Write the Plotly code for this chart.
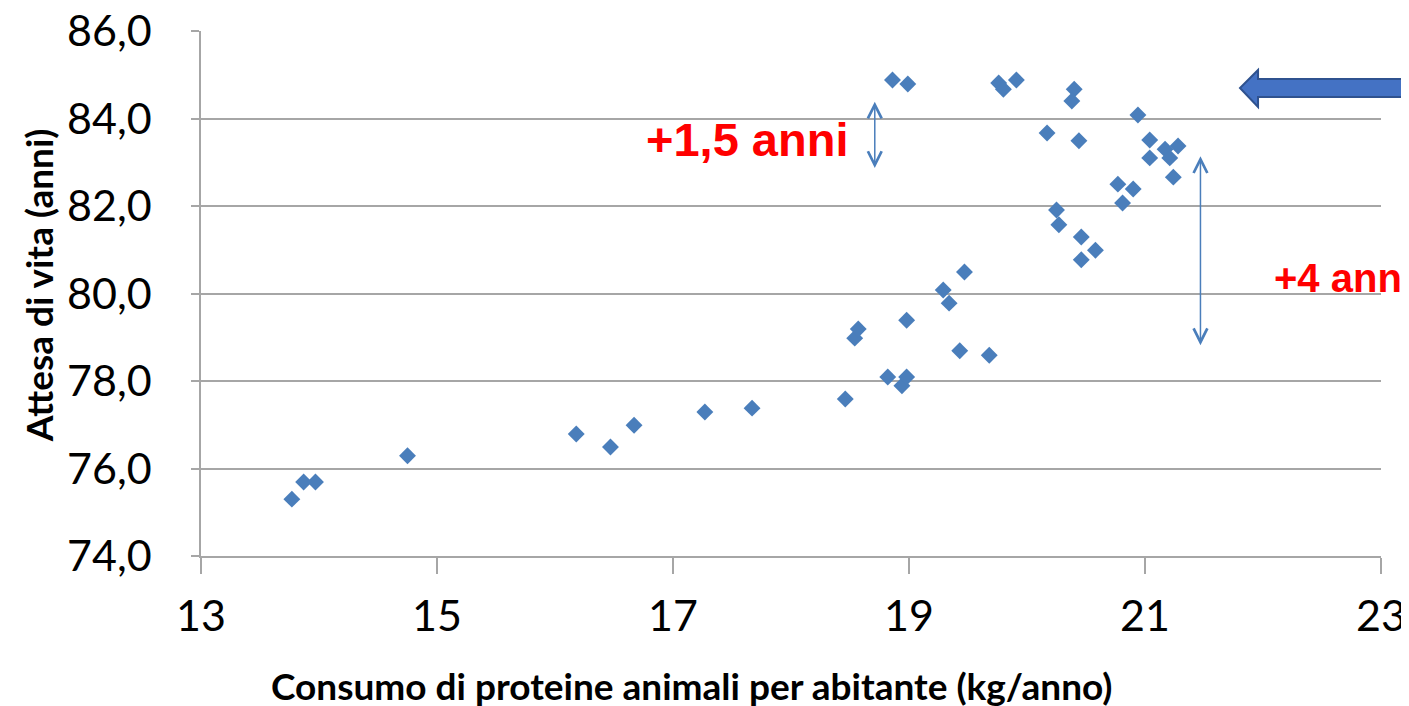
import plotly.graph_objects as go

# Data
consumo = [13.77, 13.87, 13.97, 14.75, 16.18, 16.47, 16.67, 17.27, 17.67, 18.46,
           18.54, 18.57, 18.82, 18.94, 18.98, 18.98, 19.29, 19.34, 19.47, 19.43,
           19.68, 18.86, 18.99, 19.76, 19.80, 19.91, 20.40, 20.38, 20.17, 20.44,
           20.94, 21.04, 21.04, 21.17, 21.21, 21.28, 21.24, 20.77, 20.90, 20.81,
           20.25, 20.27, 20.46, 20.58, 20.46]
attesa = [75.30, 75.69, 75.69, 76.29, 76.79, 76.49, 76.99, 77.29, 77.38, 77.59,
          78.98, 79.19, 78.09, 77.89, 78.09, 79.39, 80.08, 79.78, 80.49, 78.69,
          78.59, 84.88, 84.79, 84.81, 84.67, 84.88, 84.67, 84.40, 83.67, 83.49,
          84.08, 83.51, 83.10, 83.30, 83.10, 83.37, 82.66, 82.50, 82.39, 82.07,
          81.91, 81.57, 81.29, 80.99, 80.77]

x_ticks = [13, 15, 17, 19, 21, 23]
y_ticks = [74, 76, 78, 80, 82, 84, 86]

x_title = "Consumo di proteine animali per abitante (kg/anno)"
y_title = "Attesa di vita (anni)"
label_small = "+1,5 anni"
label_big = "+4 anni"

blue = "#4A7EBB"
grid = "#A6A6A6"

fig = go.Figure()
fig.add_trace(go.Scatter(
    x=consumo, y=attesa, mode="markers",
    marker=dict(symbol="diamond", size=13, color=blue, line=dict(width=0)),
    showlegend=False, hoverinfo="x+y"))

# page body adds an 8px offset; margins compensate for it
fig.update_layout(
    width=1409, height=706,
    margin=dict(l=193, r=36, t=23, b=158, autoexpand=False),
    paper_bgcolor="white", plot_bgcolor="white",
    separators=",.",
    font=dict(family="Lato, sans-serif", color="#000000"),
    xaxis=dict(range=[13, 23], tickvals=x_ticks, showgrid=False, zeroline=False,
               showline=True, linecolor=grid, linewidth=1.5, automargin=False,
               ticks="outside", ticklen=16, tickcolor=grid, tickwidth=1.5,
               tickfont=dict(size=43, family="Lato, sans-serif"),
               ticklabelstandoff=6, ticklabeloverflow="allow"),
    yaxis=dict(range=[74, 86], tickvals=y_ticks, tickformat=".1f",
               showgrid=True, gridcolor=grid, gridwidth=1.5, zeroline=False,
               showline=True, linecolor=grid, linewidth=1.5, automargin=False,
               ticks="outside", ticklen=8, tickcolor=grid, tickwidth=1.5,
               tickfont=dict(size=43, family="Lato, sans-serif"),
               ticklabelstandoff=31, ticklabeloverflow="allow"),
)

# axis titles
fig.add_annotation(text=f"<b>{x_title}</b>", xref="paper", yref="paper",
                   x=0.416, y=-0.2476, xanchor="center", yanchor="middle",
                   showarrow=False,
                   font=dict(size=37, family="Lato, sans-serif", color="black"))
fig.add_annotation(text=f"<b>{y_title}</b>", xref="paper", yref="paper",
                   x=-0.138, y=0.516, xanchor="center", yanchor="middle",
                   textangle=-90, showarrow=False,
                   font=dict(size=37, family="Lato, sans-serif", color="black"))

# red labels
fig.add_annotation(text=f"<b>{label_small}</b>", x=17.63, y=83.51, showarrow=False,
                   xanchor="center", yanchor="middle",
                   font=dict(size=47, family="Liberation Sans, Arial", color="#FF0000"))
fig.add_annotation(text=f"<b>{label_big}</b>", x=22.08, y=80.35, xanchor="left",
                   yanchor="middle", showarrow=False,
                   font=dict(size=40, family="Liberation Sans, Arial", color="#FF0000"))

# double-headed thin arrows
for (xa, y0, y1) in [(18.71, 84.42, 82.87), (21.47, 83.17, 78.82)]:
    fig.add_annotation(x=xa, y=y1, ax=xa, ay=y0, axref="x", ayref="y",
                       xref="x", yref="y", text="", showarrow=True,
                       arrowside="end+start", arrowhead=5, arrowsize=1.8,
                       arrowwidth=1.5, arrowcolor=blue, standoff=0, startstandoff=0)

# big block arrow pointing left (top right)
path = ("M 1.08,0.9086 L 0.8958,0.9086 L 0.8958,0.9257 L 0.8805,0.8914 "
        "L 0.8958,0.8552 L 0.8958,0.8743 L 1.08,0.8743 Z")
fig.add_shape(type="path", path=path, xref="paper", yref="paper",
              fillcolor="#4472C4", line=dict(color="#2F528F", width=2))

fig.write_html("out.html")
